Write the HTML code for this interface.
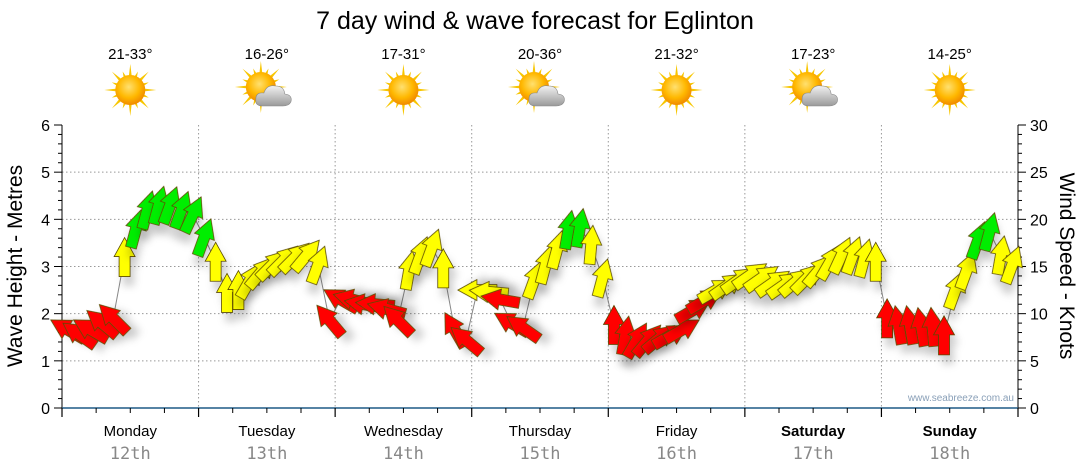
<!DOCTYPE html>
<html><head><meta charset="utf-8">
<style>
html,body{margin:0;padding:0;background:#fff;}
svg{display:block;font-family:"Liberation Sans","DejaVu Sans",sans-serif;}
</style></head>
<body>
<svg id="chart" width="1080" height="475" viewBox="0 0 1080 475" xmlns="http://www.w3.org/2000/svg">
<defs>
<filter id="sh" x="-50%" y="-50%" width="200%" height="200%"><feDropShadow dx="4" dy="9" stdDeviation="4" flood-color="#000" flood-opacity="0.18"/></filter>
<radialGradient id="sun" cx="45%" cy="40%" r="60%"><stop offset="0" stop-color="#ffe070"/><stop offset="0.6" stop-color="#ffb800"/><stop offset="1" stop-color="#f08a00"/></radialGradient>
<linearGradient id="cloud" x1="0" y1="0" x2="0" y2="1"><stop offset="0" stop-color="#f2f2f2"/><stop offset="1" stop-color="#9a9a9a"/></linearGradient>
</defs>
<text x="535" y="29" font-size="25" text-anchor="middle" fill="#000">7 day wind &amp; wave forecast for Eglinton</text>
<g id="grid"></g>
<g id="axes"></g>
<g id="icons"></g>
<g id="marks"></g>
<text transform="translate(22,266) rotate(-90)" font-size="21" text-anchor="middle" fill="#000">Wave Height - Metres</text>
<text transform="translate(1060,266) rotate(90)" font-size="21" text-anchor="middle" fill="#000">Wind Speed - Knots</text>
<text x="1014" y="401" font-size="10" text-anchor="end" fill="#8aa0b8">www.seabreeze.com.au</text>
</svg>
<script>
const days = ["Monday","Tuesday","Wednesday","Thursday","Friday","Saturday","Sunday"];
const dates = ["12th","13th","14th","15th","16th","17th","18th"];
const temps = ["21-33°","16-26°","17-31°","20-36°","21-32°","17-23°","14-25°"];
const cloudy = [false,true,false,true,false,true,false];
const waveTicks = [0,1,2,3,4,5,6];
const windTicks = [0,5,10,15,20,25,30];
const windSpeed = [
 8.3,7.8,8.3,9,9.5,16,19,21,21.5,21.5,21,20.5,
 18.1,15.5,12.2,12.5,13.5,14.4,15.2,15.7,16,16.2,15.2,9.3,
 11.5,11.5,11,11,10.5,9.3,14.6,16.2,17,14.8,8.3,7.2,
 12.5,12.3,11.5,9,8.5,13.6,15.2,16.8,18.9,19.1,17.3,13.8,
 8.8,7.7,7.2,7.2,7.4,7.7,8.3,10.4,11.4,12.5,13,13.6,
 14.1,13.8,13.3,13.1,13.4,13.8,14.6,15.5,16.2,16.2,15.9,15.5,
 9.5,8.8,8.8,8.6,8.6,7.7,12.5,14.6,17.8,18.7,16.2,15.2];
const windDir = [
 300,305,300,310,315,0,15,15,15,20,20,25,
 20,0,0,0,30,40,45,45,45,40,20,320,
 300,285,280,275,285,315,10,20,20,0,330,310,
 270,275,280,300,305,20,15,15,10,10,5,15,
 0,10,30,40,50,60,60,60,60,60,55,55,
 55,55,55,55,50,45,40,30,25,20,15,0,
 0,350,350,350,355,0,20,20,20,15,10,20];

const NS="http://www.w3.org/2000/svg";
const X0=62,X1=1018,Y0=408,Y1=125,NDAY=7,PER=12;
const dayW=(X1-X0)/NDAY;
const xT=i=>X0+(i+0.5)*dayW/PER;
const yWave=v=>Y0-(v/6)*(Y0-Y1);
const yWind=v=>Y0-(v/30)*(Y0-Y1);
function mk(tag,attrs,parent){const e=document.createElementNS(NS,tag);for(const k in attrs)e.setAttribute(k,attrs[k]);parent.appendChild(e);return e;}
const grid=document.getElementById('grid'),axes=document.getElementById('axes'),icons=document.getElementById('icons'),marks=document.getElementById('marks');

waveTicks.forEach(v=>{
 if(v>0&&v<6){const l=mk('line',{x1:X0,x2:X1,y1:yWave(v),y2:yWave(v),stroke:'#999','stroke-width':1,'stroke-dasharray':'1.5,2.5'},grid);
 
 }
 const t=mk('text',{x:X0-12,y:yWave(v)+6,'font-size':16,'text-anchor':'end',fill:'#000'},axes);t.textContent=v;
 
 
});
for(let m=0;m<=30;m++){const y=Y0-m*(Y0-Y1)/30;mk('line',{x1:X0-(m%5==0?8:4),x2:X0,y1:y,y2:y,stroke:'#000','stroke-width':1},axes);}
windTicks.forEach(v=>{const t=mk('text',{x:X1+12,y:yWind(v)+6,'font-size':16,fill:'#000'},axes);t.textContent=v;
 
 });
for(let m=0;m<=30;m++){const y=yWind(m);mk('line',{x1:X1,x2:X1+(m%5==0?8:4),y1:y,y2:y,stroke:'#000','stroke-width':1},axes);}
mk('line',{x1:X0,x2:X0,y1:Y1,y2:Y0,stroke:'#000','stroke-width':1},axes);
mk('line',{x1:X1,x2:X1,y1:Y1,y2:Y0,stroke:'#000','stroke-width':1},axes);
mk('line',{x1:X0,x2:X1,y1:Y0,y2:Y0,stroke:'#1f5a85','stroke-width':1.5},axes);
for(let d=0;d<=NDAY;d++){
 const x=X0+d*dayW;
 if(d>0&&d<NDAY){const l=mk('line',{x1:x,x2:x,y1:Y1,y2:Y0,stroke:'#999','stroke-width':1,'stroke-dasharray':'1.5,2.5'},grid);
 
 }
 mk('line',{x1:x,x2:x,y1:Y0,y2:Y0+9,stroke:'#000','stroke-width':1.2},axes);
 if(d<NDAY){for(let q=1;q<4;q++){const xx=x+q*dayW/4;mk('line',{x1:xx,x2:xx,y1:Y0,y2:Y0+5,stroke:'#000','stroke-width':1},axes);}
 const cx=x+dayW/2;
 const dl=mk('text',{x:cx,y:436,'font-size':15,'text-anchor':'middle',fill:'#000','font-weight':d>=5?'bold':'normal'},axes);dl.textContent=days[d];
 
 
 const dt=mk('text',{x:cx,y:459,'font-size':17,'text-anchor':'middle',fill:'#888','font-family':'"DejaVu Sans Mono","Liberation Mono",monospace'},axes);dt.textContent=dates[d];
 
 
 const tt=mk('text',{x:cx,y:59,'font-size':15,'text-anchor':'middle',fill:'#000'},icons);tt.textContent=temps[d];
 
 
 const g=mk('g',{transform:`translate(${cx},${90})`},icons);
 
 
 const sx=cloudy[d]?-6:0,sy=cloudy[d]?-3:0;
 for(let r=0;r<16;r++){const a=r*Math.PI/8,L=(r%2?20:26);
  const p1=[sx+Math.cos(a-0.12)*13,sy+Math.sin(a-0.12)*13],p2=[sx+Math.cos(a)*L,sy+Math.sin(a)*L],p3=[sx+Math.cos(a+0.12)*13,sy+Math.sin(a+0.12)*13];
  mk('polygon',{points:[p1,p2,p3].map(p=>p.join(',')).join(' '),fill:'#f7c600'},g);}
 mk('circle',{cx:sx,cy:sy,r:15,fill:'url(#sun)'},g);
 if(cloudy[d]){mk('path',{d:'M-4,16 Q-12,16 -11,9 Q-11,2 -3,3 Q0,-6 9,-4 Q17,-4 18,4 Q26,5 24,12 Q22,16 16,16 Z',fill:'url(#cloud)',stroke:'#888','stroke-width':0.6},g);}
 }
}
// connecting line
const pts=windSpeed.map((v,i)=>xT(i)+','+yWind(v)).join(' ');
const pl=mk('polyline',{points:pts,fill:'none',stroke:'#888','stroke-width':1},marks);


const shape="0,-19.5 10.5,-0.5 5.5,-0.5 5.5,19.5 -5.5,19.5 -5.5,-0.5 -10.5,-0.5";
windSpeed.forEach((v,i)=>{
 const col=v<12?'#ff0000':(v<17.5?'#ffff00':'#00ee00');
 const a=mk('polygon',{points:shape,fill:col,stroke:'#5a4a00','stroke-width':0.8,filter:'url(#sh)',
  transform:`translate(${xT(i)},${yWind(v)}) rotate(${windDir[i]})`},marks);
 
 
});
</script>
</body></html>
